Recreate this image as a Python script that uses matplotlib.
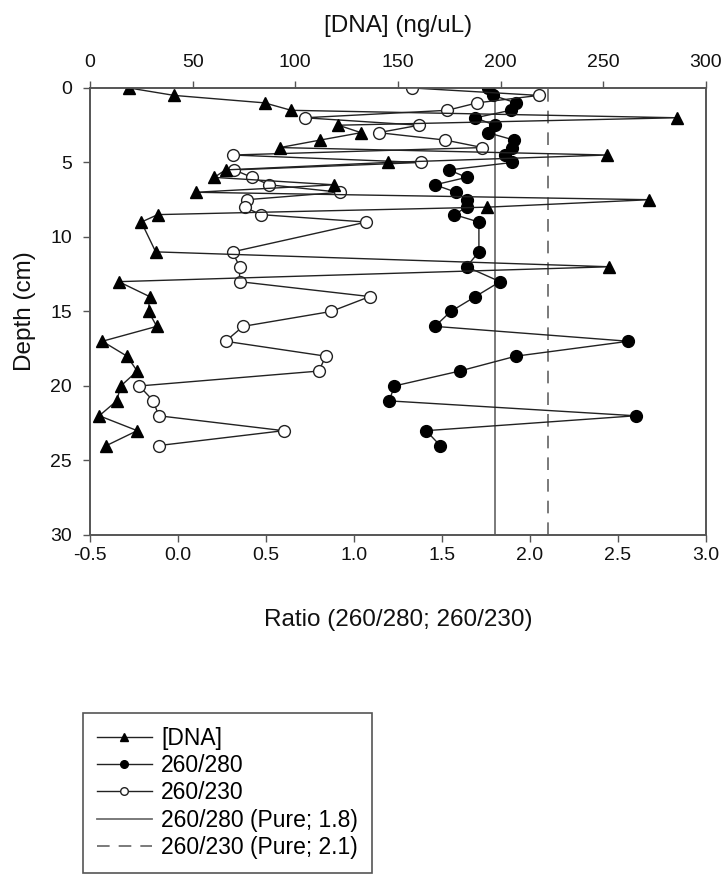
import matplotlib
matplotlib.use("Agg")
import matplotlib.pyplot as plt

plt.rcParams['font.family'] = ['Liberation Sans', 'DejaVu Sans']

# sampling depths (cm)
depth = [0, 0.5, 1, 1.5, 2, 2.5, 3, 3.5, 4, 4.5, 5, 5.5, 6, 6.5, 7, 7.5, 8, 8.5, 9,
         11, 12, 13, 14, 15, 16, 17, 18, 19, 20, 21, 22, 23, 24]

# DNA concentration (ng/uL)
dna = [19, 41, 85, 98, 286, 121, 132, 112, 92.5, 252, 145, 66, 60.5, 119, 51.5, 272.5, 193.5, 33, 25,
       32, 253, 14, 29, 28.5, 32.5, 6, 18, 23, 15, 13, 4.5, 23, 8]

# absorbance ratios
r280 = [1.76, 1.79, 1.92, 1.89, 1.69, 1.80, 1.76, 1.91, 1.90, 1.86, 1.90, 1.54, 1.64, 1.46, 1.58, 1.64, 1.64, 1.57, 1.71,
        1.71, 1.64, 1.83, 1.69, 1.55, 1.46, 2.56, 1.92, 1.60, 1.23, 1.20, 2.60, 1.41, 1.49]
r230 = [1.33, 2.05, 1.70, 1.53, 0.72, 1.37, 1.14, 1.52, 1.73, 0.31, 1.38, 0.32, 0.42, 0.52, 0.92, 0.39, 0.38, 0.47, 1.07,
        0.31, 0.35, 0.35, 1.09, 0.87, 0.37, 0.27, 0.84, 0.80, -0.22, -0.14, -0.11, 0.60, -0.11]

pure_280 = 1.8
pure_230 = 2.1

fig = plt.figure(figsize=(7.27, 8.77), dpi=100)
ax = fig.add_axes([0.1238, 0.39, 0.8472, 0.5097])
ax2 = ax.twiny()

line_kw = dict(color='#222222', linewidth=1.0)
h_dna, = ax2.plot(dna, depth, marker='^', markersize=8.5, markerfacecolor='black',
                  markeredgecolor='black', label='[DNA]', zorder=2, **line_kw)
h280, = ax.plot(r280, depth, marker='o', markersize=8.5, markerfacecolor='black',
                markeredgecolor='black', label='260/280', zorder=3, **line_kw)
h230, = ax.plot(r230, depth, marker='o', markersize=8.5, markerfacecolor='white',
                markeredgecolor='#222222', markeredgewidth=1.0, label='260/230', zorder=4, **line_kw)
hp1 = ax.axvline(pure_280, color='#707070', linewidth=1.3, label='260/280 (Pure; 1.8)', zorder=1)
hp2 = ax.axvline(pure_230, color='#707070', linewidth=1.3, linestyle=(0, (7, 5)),
                 label='260/230 (Pure; 2.1)', zorder=1)

ax.set_xlim(-0.5, 3.0)
ax.set_ylim(30, 0)
ax2.set_xlim(0, 300)
ax.set_xticks([-0.5, 0.0, 0.5, 1.0, 1.5, 2.0, 2.5, 3.0])
ax.set_xticklabels(['-0.5', '0.0', '0.5', '1.0', '1.5', '2.0', '2.5', '3.0'])
ax.set_yticks([0, 5, 10, 15, 20, 25, 30])
ax2.set_xticks([0, 50, 100, 150, 200, 250, 300])

for a in (ax, ax2):
    for s in a.spines.values():
        s.set_color('#555555')
        s.set_linewidth(1.2)
    a.tick_params(direction='out', length=5, width=1.0, color='#555555',
                  labelsize=14, labelcolor='#111111', pad=4)
ax2.tick_params(axis='x', pad=7)
ax.tick_params(axis='y', pad=8)

ax.set_xlabel('Ratio (260/280; 260/230)', fontsize=17.5, labelpad=32, color='#111111')
ax.set_ylabel('Depth (cm)', fontsize=17.5, labelpad=10, color='#111111')
ax2.set_xlabel('[DNA] (ng/uL)', fontsize=17.5, labelpad=16, color='#111111')

leg = fig.legend(handles=[h_dna, h280, h230, hp1, hp2], loc='upper left',
                 bbox_to_anchor=(83 / 727, 1 - 713 / 877), fontsize=16.5,
                 handlelength=2.4, handletextpad=0.4, labelspacing=0.19,
                 borderpad=0.6, borderaxespad=0, fancybox=False, framealpha=1)
leg.get_frame().set_edgecolor('#555555')
leg.get_frame().set_linewidth(1.2)
for lh in leg.legend_handles[:3]:
    lh.set_markersize(5.5)

fig.savefig('out.png', dpi=100)
